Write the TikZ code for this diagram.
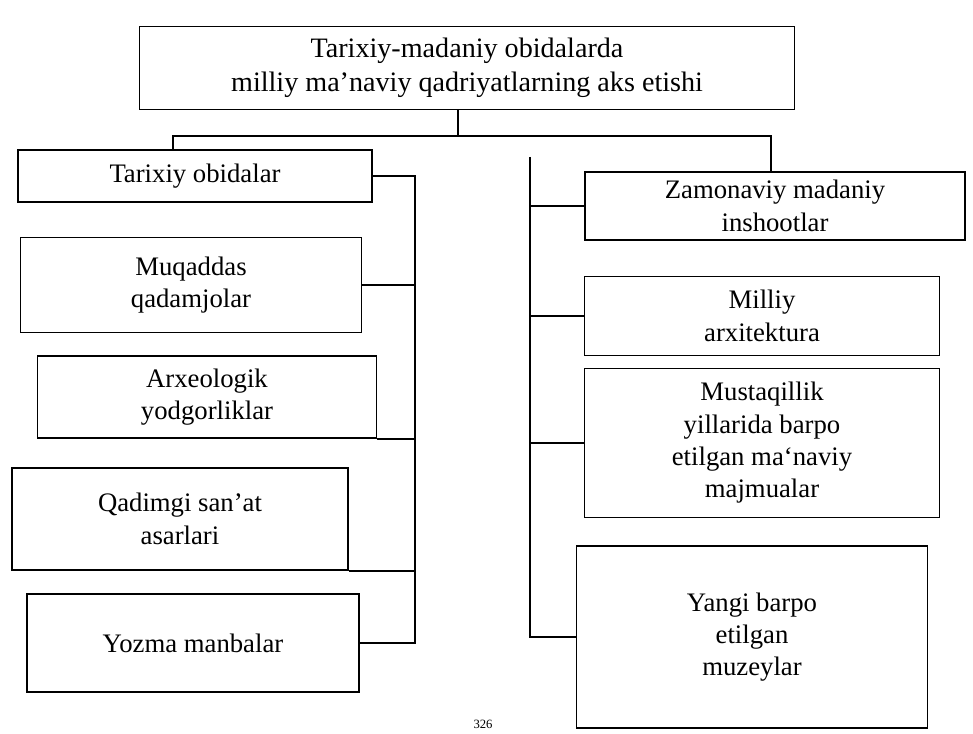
\documentclass[tikz,border=0pt]{standalone}
\usepackage{fontspec}
\setmainfont{Liberation Serif}
\usetikzlibrary{positioning, calc}

\begin{document}
\begin{tikzpicture}[x=0.025cm, y=-0.025cm,
  box/.style={draw, line width=1.1pt, align=center, inner sep=0pt,
    font=\fontsize{19}{23}\selectfont},
  link/.style={line width=1.1pt}]
  \useasboundingbox (0,0) rectangle (973,734);

  % --- top box ---
  \node[box, minimum width=16.375cm, minimum height=2.075cm, font=\fontsize{20}{24}\selectfont]
    (title) at (467,68) {Tarixiy-madaniy obidalarda\\milliy ma’naviy qadriyatlarning aks etishi};

  % --- left column ---
  \node[box, minimum width=8.85cm, minimum height=1.3cm] (tarixiy) at (195,176) {Tarixiy obidalar};
  \node[box, minimum width=8.525cm, minimum height=2.375cm] (muqaddas) at (191,285) {Muqaddas\\qadamjolar};
  \node[box, minimum width=8.475cm, minimum height=2.05cm] (arxeologik) at (207,397) {Arxeologik\\yodgorliklar};
  \node[box, minimum width=8.4cm, minimum height=2.55cm] (qadimgi) at (180,519) {Qadimgi san’at\\asarlari};
  \node[box, minimum width=8.3cm, minimum height=2.45cm] (yozma) at (193,643) {Yozma manbalar};

  % --- right column ---
  \node[box, minimum width=9.5cm, minimum height=1.7cm] (zamonaviy) at (775,206) {Zamonaviy madaniy\\inshootlar};
  \node[box, minimum width=8.875cm, minimum height=1.975cm] (milliy) at (762,316) {Milliy\\arxitektura};
  \node[box, minimum width=8.875cm, minimum height=3.725cm] (mustaqillik) at (762,443)
    {Mustaqillik\\yillarida barpo\\etilgan ma‘naviy\\majmualar};
  \node[box, minimum width=8.775cm, minimum height=4.55cm] (yangi) at (752,637)
    {Yangi barpo\\etilgan\\muzeylar};

  % --- page number ---
  \node[font=\fontsize{9}{11}\selectfont] (page) at (483,724) {326};

  % --- connectors ---
  \coordinate (bar) at (458,136);
  \coordinate (barL) at (173,136);
  \coordinate (barR) at (771,136);
  \coordinate (lsp) at (415,0);
  \coordinate (rtop) at (530,157);

  \draw[link] (title.south -| bar) -- (bar);
  \draw[link] (barL |- tarixiy.north) -- (barL) -- (barR) -- (barR |- zamonaviy.north);

  \draw[link] (tarixiy.east) -- (tarixiy.east -| lsp) -- (yozma.east -| lsp) -- (yozma.east);
  \foreach \a in {muqaddas.east, arxeologik.south east, qadimgi.south east}
    \draw[link] (\a) -- (\a -| lsp);

  \draw[link] (rtop) -- (rtop |- yangi.west) -- (yangi.west);
  \foreach \b in {zamonaviy, milliy, mustaqillik}
    \draw[link] (\b.west -| rtop) -- (\b.west);
\end{tikzpicture}
\end{document}
